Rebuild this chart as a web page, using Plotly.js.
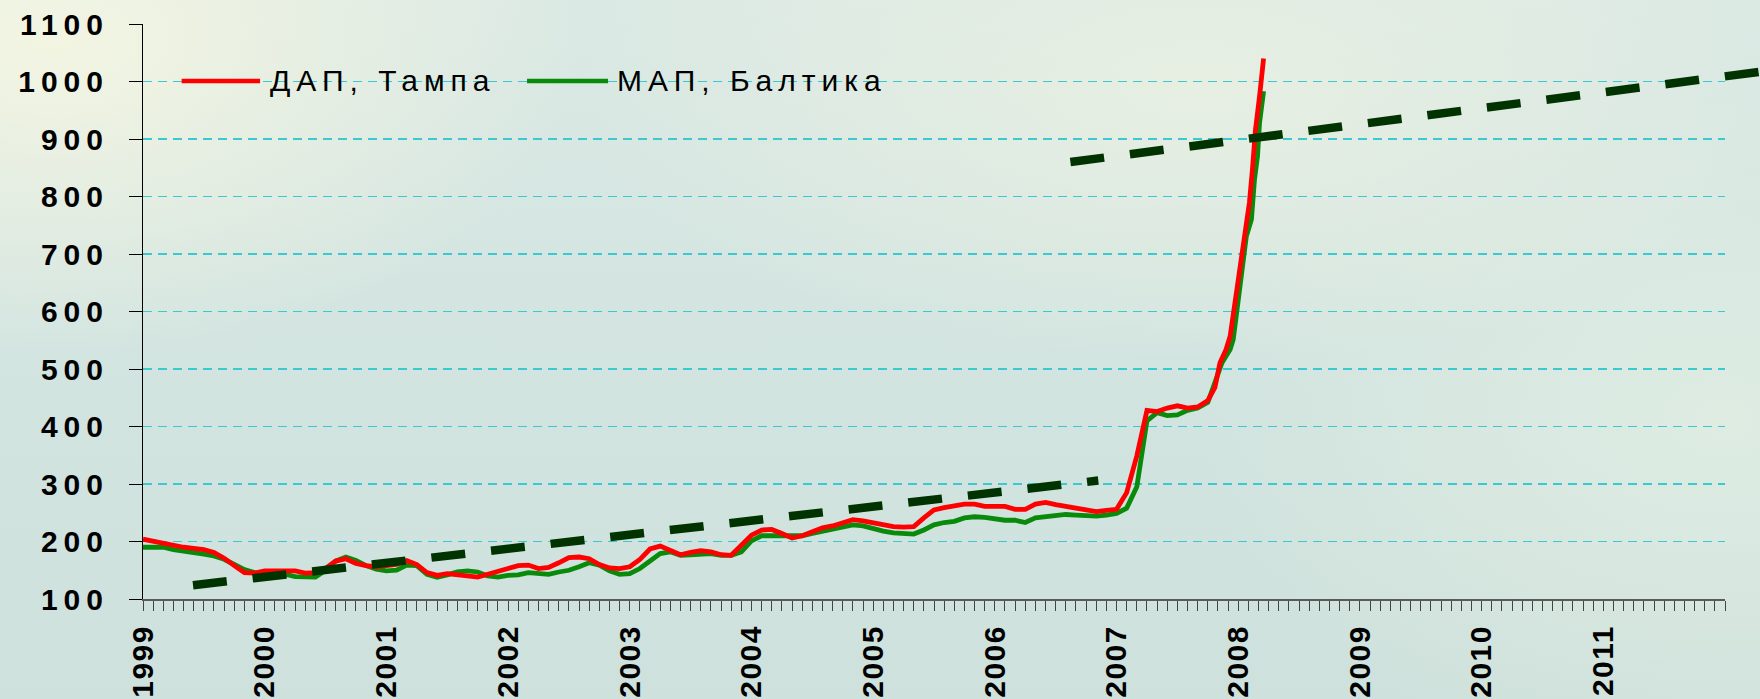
<!DOCTYPE html>
<html>
<head>
<meta charset="utf-8">
<script src="https://cdn.plot.ly/plotly-3.0.1.min.js"></script>
<style>
  html, body { margin:0; padding:0; }
  body {
    width:1760px; height:699px; overflow:hidden;
    background:
      radial-gradient(ellipse 30% 45% at 3% 6%, rgba(243,245,226,1) 0%, rgba(243,245,226,0) 100%),
      radial-gradient(ellipse 35% 40% at 68% 12%, rgba(231,239,226,1) 0%, rgba(231,239,226,0) 100%),
      radial-gradient(ellipse 30% 50% at 98% 60%, rgba(222,236,226,1) 0%, rgba(222,236,226,0) 100%),
      linear-gradient(180deg, #dbe9e4 0%, #d2e4e0 55%, #cfe1dc 100%);
  }
  #chart { width:1760px; height:699px; }
  .ytick text { letter-spacing: 6px; }
  .xtick text { letter-spacing: 1.5px; }
  .annotation-text { letter-spacing: 6px; }
</style>
</head>
<body>
<div id="chart"></div>
<script>
// ---- Data (months counted from January 1999) ----
const yearLabels = ['1999','2000','2001','2002','2003','2004','2005','2006','2007','2008','2009','2010','2011'];
const yearTickMonths = [0,12,24,36,48,60,72,84,96,108,120,132,144];

const seriesNames = ['ДАП, Тампа', 'МАП, Балтика'];

// Monthly values, Jan 1999 .. Oct 2007 (months 0..105)
const dapMonthly = [
  204,200,197,194,190,188,186,181,171,158,146,145,
  149,149,149,149,145,146,153,166,170,162,158,156,
  158,160,167,160,146,141,144,142,138,138,143,149,
  153,158,159,153,155,163,172,173,170,160,154,153,
  156,169,187,192,185,177,181,184,182,177,176,193,
  211,220,221,214,206,210,218,224,227,232,238,236,
  232,229,226,225,226,241,255,259,262,265,265,261,
  261,261,256,256,265,268,264,261,258,256,252,254,
  256,285,349,428,426,432,436,432,434,445
];
const mapMonthly = [
  190,190,190,186,184,180,178,175,169,160,151,146,
  145,145,143,139,138,138,150,166,173,167,158,152,
  149,150,159,158,143,138,142,147,149,147,140,138,
  141,142,146,144,143,147,150,156,163,159,149,143,
  144,153,167,179,182,176,177,179,179,176,176,182,
  201,210,211,210,210,210,214,218,221,227,229,227,
  222,218,215,215,213,220,229,233,235,241,243,242,
  239,237,237,233,241,243,247,247,246,244,244,246,
  249,258,295,410,424,419,420,428,432,442
];
// Final steep rise (late 2007 - spring 2008), read at finer positions
const dapRiseMonths = [105.7,106.2,106.8,107.2,107.6,108.1,108.6,109.1,109.4,109.7,110.1,110.5];
const dapRiseValues = [468,511,534,557,604,673,731,789,847,916,974,1040];
const mapRiseMonths = [105.6,106.4,107.2,107.5,107.8,108.3,108.8,109.3,109.6,109.9,110.1,110.5];
const mapRiseValues = [470,511,534,551,592,667,731,760,829,870,928,983];

// Trend lines (dashed)
const trend1Months = [4.93, 94.2];
const trend1Values = [124, 306];
const trend2Months = [91.45, 159.5];
const trend2Values = [860, 1017];

// ---- Build traces ----
const monthIdx = arr => arr.map((_, i) => i);
const dapX = monthIdx(dapMonthly).concat(dapRiseMonths);
const dapY = dapMonthly.concat(dapRiseValues);
const mapX = monthIdx(mapMonthly).concat(mapRiseMonths);
const mapY = mapMonthly.concat(mapRiseValues);

const COLORS = { dap:'#ff0000', map:'#0a8a0a', trend:'#003300' };

const traces = [
  { x: mapX, y: mapY, name: seriesNames[1], type:'scatter', mode:'lines',
    line:{ color: COLORS.map, width:4.8 }, xaxis:'x', yaxis:'y', hoverinfo:'skip' },
  { x: dapX, y: dapY, name: seriesNames[0], type:'scatter', mode:'lines',
    line:{ color: COLORS.dap, width:4.8 }, xaxis:'x', yaxis:'y', hoverinfo:'skip' },
  { x: trend1Months, y: trend1Values, type:'scatter', mode:'lines', showlegend:false,
    line:{ color: COLORS.trend, width:8.5, dash:'34px,26px' }, xaxis:'x2', yaxis:'y2', hoverinfo:'skip' },
  { x: trend2Months, y: trend2Values, type:'scatter', mode:'lines', showlegend:false,
    line:{ color: COLORS.trend, width:8.5, dash:'34px,26px' }, xaxis:'x2', yaxis:'y2', hoverinfo:'skip' }
];

const xDomainEnd = 0.97836;
const tickFontBase = { family:'Liberation Sans, Arial, sans-serif', color:'#000', weight:'bold' };

// legend, drawn in paper coordinates
const legendY = 0.9009;
const layout = {
  width:1760, height:699,
  margin:{ l:143, r:0, t:24, b:100, pad:0 },
  paper_bgcolor:'rgba(0,0,0,0)',
  plot_bgcolor:'rgba(0,0,0,0)',
  showlegend:false,
  xaxis:{
    domain:[0, xDomainEnd], range:[0,156],
    tickmode:'array', tickvals: yearTickMonths, ticktext: yearLabels,
    tickangle:-90, ticks:'outside', ticklen:10, tickcolor:'#444', tickwidth:1,
    showline:true, linecolor:'#5a5a5a', linewidth:2,
    showgrid:false, zeroline:false,
    tickfont: Object.assign({ size:30 }, tickFontBase),
    ticklabelstandoff: 2,
    minor:{ tickmode:'linear', tick0:0, dtick:1, ticks:'outside', ticklen:10, tickcolor:'#444', tickwidth:1, showgrid:false }
  },
  yaxis:{
    range:[100,1100], tickmode:'linear', tick0:100, dtick:100,
    ticks:'outside', ticklen:13, tickcolor:'#000', tickwidth:1,
    showline:true, linecolor:'#000', linewidth:1,
    showgrid:true, gridcolor:'#3cc8d0', gridwidth:1.5, griddash:'9px,6px',
    zeroline:false,
    tickfont: Object.assign({ size:30 }, tickFontBase),
    ticklabelstandoff: 14
  },
  xaxis2:{ domain:[0,1], range:[0, 156 / xDomainEnd], visible:false, anchor:'y2', fixedrange:true },
  yaxis2:{ domain:[0,1], range:[100,1100], visible:false, anchor:'x2', fixedrange:true },
  shapes:[
    { type:'line', xref:'paper', yref:'paper', x0:0.0239, x1:0.0724, y0:legendY, y1:legendY,
      line:{ color: COLORS.dap, width:4.5 } },
    { type:'line', xref:'paper', yref:'paper', x0:0.2375, x1:0.2876, y0:legendY, y1:legendY,
      line:{ color: COLORS.map, width:4.5 } }
  ],
  annotations:[
    { xref:'paper', yref:'paper', x:0.0775, y:legendY, xanchor:'left', yanchor:'middle',
      text: seriesNames[0], showarrow:false,
      font:{ family:'Liberation Sans, Arial, sans-serif', size:30, color:'#000' } },
    { xref:'paper', yref:'paper', x:0.2921, y:legendY, xanchor:'left', yanchor:'middle',
      text: seriesNames[1], showarrow:false,
      font:{ family:'Liberation Sans, Arial, sans-serif', size:30, color:'#000' } }
  ]
};

Plotly.newPlot('chart', traces, layout, { staticPlot:true, displayModeBar:false });
</script>
</body>
</html>
